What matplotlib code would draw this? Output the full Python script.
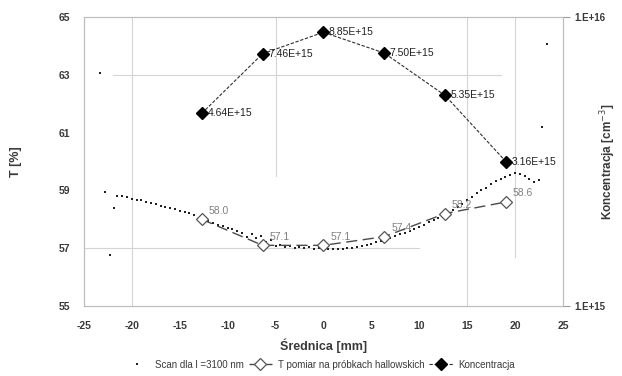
# Transmission scan across the wafer diameter together with the Hall
# measurements (T and carrier concentration) on the cut samples.

# imports
import numpy as np
import matplotlib
matplotlib.use('Agg')
import matplotlib.pyplot as plt

plt.rcParams['font.family'] = ['Liberation Sans', 'DejaVu Sans']
plt.rcParams['axes.unicode_minus'] = False

# scan data (lambda = 3100 nm)
scan_x = [-23.3, -22.8, -22.3, -21.9,
          -21.5, -21.0, -20.5, -20.0, -19.5, -19.0, -18.5, -18.0, -17.5,
          -17.0, -16.5, -16.0, -15.5, -15.0, -14.5, -14.0, -13.5, -13.0,
          -12.5, -12.0, -11.5, -11.0, -10.5, -10.0, -9.5, -9.0, -8.5,
          -8.0, -7.5, -7.0, -6.5, -6.0, -5.5, -5.0, -4.5, -4.0, -3.5,
          -3.0, -2.5, -2.0, -1.5, -1.0, -0.5, 0.0, 0.5, 1.0, 1.5,
          2.0, 2.5, 3.0, 3.5, 4.0, 4.5, 5.0, 5.5, 6.0, 6.5,
          7.0, 7.5, 8.0, 8.5, 9.0, 9.5, 10.0, 10.5, 11.0, 11.5,
          12.0, 12.5, 13.0, 13.5, 14.0, 14.5, 15.0, 15.5, 16.0, 16.5,
          17.0, 17.5, 18.0, 18.5, 19.0, 19.5, 20.0, 20.5, 21.0, 21.5,
          22.0, 22.5, 22.8, 23.3]
scan_t = [63.06, 58.95, 56.77, 58.40,
          58.82, 58.80, 58.76, 58.72, 58.68, 58.66, 58.60, 58.56, 58.52,
          58.47, 58.44, 58.38, 58.34, 58.30, 58.27, 58.22, 58.15, 58.05,
          57.98, 57.93, 57.88, 57.82, 57.78, 57.70, 57.65, 57.58, 57.52,
          57.40, 57.48, 57.35, 57.42, 57.20, 57.28, 57.08, 57.10, 57.06, 57.08,
          57.02, 57.05, 57.00, 57.03, 56.98, 57.00, 56.98, 56.98, 56.97, 56.98,
          56.99, 57.00, 57.02, 57.05, 57.08, 57.12, 57.16, 57.20, 57.26, 57.30,
          57.36, 57.42, 57.48, 57.54, 57.60, 57.66, 57.74, 57.82, 57.90, 57.98,
          58.06, 58.14, 58.22, 58.32, 58.42, 58.54, 58.66, 58.78, 58.90, 59.00,
          59.10, 59.22, 59.32, 59.40, 59.48, 59.55, 59.60, 59.58, 59.50, 59.40,
          59.28, 59.36, 61.20, 64.05]

# hall samples
hall_x    = [-12.7, -6.35, 0.0, 6.35, 12.7, 19.05]
hall_t    = [58.0, 57.1, 57.1, 57.4, 58.2, 58.6]
hall_conc = [4.64e15, 7.46e15, 8.85e15, 7.50e15, 5.35e15, 3.16e15]
conc_lbls = ['4.64E+15', '7.46E+15', '8.85E+15', '7.50E+15', '5.35E+15',
             '3.16E+15']

# axes parameters
x_ticks   = [-25, -20, -15, -10, -5, 0, 5, 10, 15, 20, 25]
t_ticks   = [55, 57, 59, 61, 63, 65]
c_ticks   = [1e15, 1e16]
c_tlabels = ['1.E+15', '1.E+16']

grey_txt = '#3a3a3a'
grid_col = '#d4d4d4'

fig = plt.figure(figsize=(6.22, 3.76), dpi=100)
ax = fig.add_axes([0.135, 0.186, 0.770, 0.769])

# faint grid lines, as they survived in the original
for xv, y0, y1 in [(-20, 0, 1), (-5, 0.45, 1), (15, 0, 1), (20, 0.17, 1)]:
    ax.axvline(xv, ymin=y0, ymax=y1, color=grid_col, lw=0.8, zorder=0)
for yv, x0, x1 in [(63, 0.06, 0.87), (57, 0.0, 0.7)]:
    ax.axhline(yv, xmin=x0, xmax=x1, color=grid_col, lw=0.8, zorder=0)

# transmission scan
l_scan, = ax.plot(scan_x, scan_t, ls='none', marker='s', ms=1.7,
                  color='#202020', mew=0)

# T measured on the hall samples
l_hall, = ax.plot(hall_x, hall_t, ls=(0, (8, 4)), lw=1.0, color='#4a4a4a',
                  marker='D', ms=6, mfc='white', mec='#555555', mew=0.9)
for x, t in zip(hall_x, hall_t):
    ax.annotate('%.1f' % t, (x, t), xytext=(5, 4), textcoords='offset points',
                fontsize=7.5, color='#808080')

ax.set_xlim(-25, 25)
ax.set_ylim(55, 65)
ax.set_xticks(x_ticks)
ax.set_yticks(t_ticks)
ax.tick_params(labelsize=7.5, labelcolor=grey_txt, length=0)
ax.tick_params(axis='x', pad=11)
ax.tick_params(axis='y', pad=10)
for lbl in ax.get_xticklabels() + ax.get_yticklabels():
    lbl.set_fontweight('bold')
ax.set_xlabel('Średnica [mm]', fontsize=9, color=grey_txt, fontweight='bold',
              labelpad=5)
ax.set_ylabel('T [%]', fontsize=9, color=grey_txt, fontweight='bold',
              labelpad=26)
for sp in ax.spines.values():
    sp.set_color('#bdbdbd')

# concentration on log axis
ax2 = ax.twinx()
l_conc, = ax2.plot(hall_x, hall_conc, ls=(0, (3, 1.5)), lw=0.8,
                   color='#303030', marker='D', ms=6, mfc='black', mec='black')
for x, c, s in zip(hall_x, hall_conc, conc_lbls):
    ax2.annotate(s, (x, c), xytext=(4, 0), textcoords='offset points',
                 fontsize=7.5, color='#222222', va='center')
ax2.set_yscale('log')
ax2.set_ylim(1e15, 1e16)
ax2.set_yticks(c_ticks)
ax2.set_yticklabels(c_tlabels)
ax2.minorticks_off()
ax2.tick_params(labelsize=7, labelcolor=grey_txt, length=5, color='#9a9a9a',
                direction='out', pad=3)
for lbl in ax2.get_yticklabels():
    lbl.set_fontweight('bold')
ax2.set_ylabel('Koncentracja [cm$^{-3}$]', fontsize=8.5, color=grey_txt,
               fontweight='bold', rotation=90)
ax2.yaxis.set_label_coords(1.074, 0.5)
for sp in ax2.spines.values():
    sp.set_color('#bdbdbd')

# legend below the axes
fig.legend([l_scan, l_hall, l_conc],
           ['Scan dla l =3100 nm', 'T pomiar na próbkach hallowskich',
            'Koncentracja'],
           loc='center', bbox_to_anchor=(0.515, 0.03), ncol=3, frameon=False,
           fontsize=7, handlelength=2.4, columnspacing=0.5, handletextpad=0.6,
           labelcolor=grey_txt)

fig.savefig('out.png', dpi=100)
